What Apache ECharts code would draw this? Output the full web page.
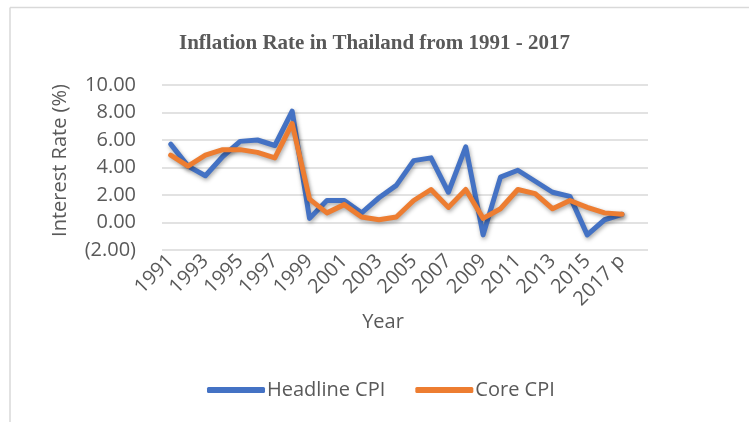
<!DOCTYPE html>
<html>
<head>
<meta charset="utf-8">
<script src="https://cdn.jsdelivr.net/npm/echarts@6/dist/echarts.min.js"></script>
<style>
html,body{margin:0;padding:0;background:#fff;}
#chart{width:749px;height:422px;}
</style>
</head>
<body>
<div id="chart"></div>
<script>
var years = ['1991','1992','1993','1994','1995','1996','1997','1998','1999','2000','2001','2002','2003','2004','2005','2006','2007','2008','2009','2010','2011','2012','2013','2014','2015','2016','2017 p',''];
var headlineCPI = [5.7,4.1,3.4,4.8,5.9,6.0,5.6,8.1,0.3,1.6,1.6,0.7,1.8,2.7,4.5,4.7,2.2,5.5,-0.9,3.3,3.8,3.0,2.2,1.9,-0.9,0.2,0.6,null];
var coreCPI = [4.9,4.1,4.9,5.3,5.3,5.1,4.7,7.2,1.7,0.7,1.3,0.4,0.2,0.4,1.6,2.4,1.1,2.4,0.3,1.0,2.4,2.1,1.0,1.6,1.1,0.7,0.6,null];
var yTicks = {min:-2, max:10, interval:2};

var chart = echarts.init(document.getElementById('chart'), null, {renderer:'canvas'});
var txt = '#595959';
var font = 'Open Sans';
function fmt(v){ return v < 0 ? '(' + Math.abs(v).toFixed(2) + ')' : v.toFixed(2); }
var shadow = {shadowBlur:4, shadowColor:'rgba(0,0,0,0.35)', shadowOffsetX:1, shadowOffsetY:2};
chart.setOption({
  animation:false,
  backgroundColor:'#fff',
  title:{
    text:'Inflation Rate in Thailand from 1991 - 2017',
    left:'center', top:28,
    textStyle:{fontFamily:'Liberation Serif', fontWeight:'bold', fontSize:21, color:txt}
  },
  legend:{
    data:['Headline CPI','Core CPI'],
    left:202, top:375,
    itemWidth:58, itemHeight:6, itemGap:30,
    icon:'roundRect',
    textStyle:{fontFamily:font, fontSize:20, color:txt, padding:[0,0,0,-3]}
  },
  grid:{left:162, right:101, top:85, bottom:172, containLabel:false},
  xAxis:{
    type:'category',
    data:years,
    boundaryGap:true,
    name:'Year',
    nameLocation:'middle',
    nameGap:60,
    nameTextStyle:{fontFamily:font, fontSize:20, color:txt, padding:[0,44,0,0]},
    axisLine:{show:false},
    axisTick:{show:false},
    axisLabel:{interval:1, rotate:45, margin:8, fontFamily:font, fontSize:20, color:txt}
  },
  yAxis:{
    type:'value',
    min:yTicks.min, max:yTicks.max, interval:yTicks.interval,
    name:'Interest Rate (%)',
    nameLocation:'middle',
    nameGap:92,
    nameTextStyle:{fontFamily:font, fontSize:20, color:txt, padding:[0,0,0,14]},
    axisLine:{show:false},
    axisTick:{show:false},
    axisLabel:{formatter:fmt, margin:26, fontFamily:font, fontSize:20, color:txt},
    splitLine:{lineStyle:{color:'#d9d9d9', width:1.5}}
  },
  series:[
    {name:'Headline CPI', type:'line', data:headlineCPI, showSymbol:false, symbol:'none',
     itemStyle:{color:'#4472C4'},
     lineStyle:Object.assign({color:'#4472C4', width:5, cap:'round', join:'round'}, shadow)},
    {name:'Core CPI', type:'line', data:coreCPI, showSymbol:false, symbol:'none',
     itemStyle:{color:'#ED7D31'},
     lineStyle:Object.assign({color:'#ED7D31', width:5, cap:'round', join:'round'}, shadow)}
  ],
  graphic:[
    {type:'line', shape:{x1:10, y1:7.5, x2:749, y2:7.5}, style:{stroke:'#d9d9d9', lineWidth:1.5}},
    {type:'line', shape:{x1:10, y1:7.5, x2:10, y2:422}, style:{stroke:'#d9d9d9', lineWidth:1.5}}
  ]
});
</script>
</body>
</html>
